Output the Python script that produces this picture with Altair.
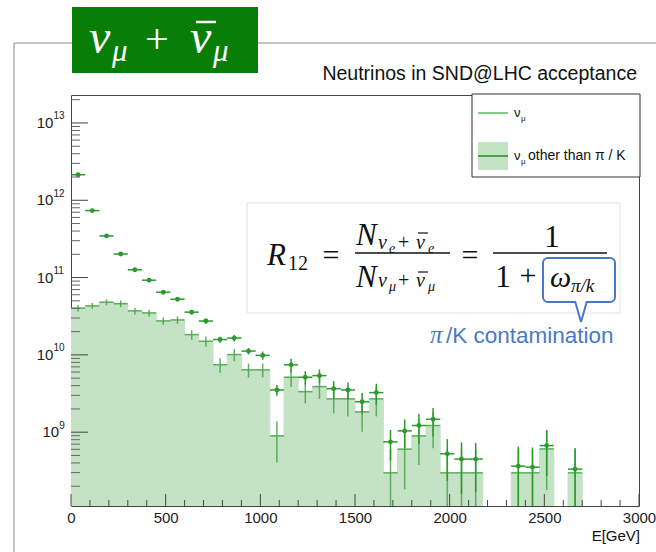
import altair as alt
import pandas as pd
import numpy as np

# ---------------- data ----------------
BIN_WIDTH = 75
BIN_LO = list(range(0, 3000, BIN_WIDTH))
NU_MU = [2.14e12, 7.35e11, 3.46e11, 2.02e11, 1.26e11, 9.25e10, 6.47e10, 5.25e10, 3.57e10, 2.74e10,
         1.58e10, 1.65e10, 1.12e10, 9.85e9, 3.52e9, 7.43e9, 5.14e9, 5.39e9, 3.66e9, 3.52e9,
         2.48e9, 3.25e9, 7.5e8, 1.04e9, 1.22e9, 1.47e9, 5.25e8, 4.49e8, 4.49e8, 0,
         0, 3.64e8, 3.53e8, 6.71e8, 0, 3.33e8, 0, 0, 0, 0]
NU_MU_ERR = [4.3e10, 2.2e10, 1.2e10, 8.1e9, 5.7e9, 4.6e9, 3.6e9, 3.2e9, 2.5e9, 2.2e9,
             1.4e9, 1.65e9, 1.1e9, 1.2e9, 5.6e8, 1.5e9, 1.0e9, 1.1e9, 9.2e8, 8.8e8,
             7.4e8, 9.8e8, 3.2e8, 4.2e8, 5.1e8, 5.9e8, 2.9e8, 2.9e8, 2.8e8, 0,
             0, 2.9e8, 2.8e8, 4.0e8, 0, 2.9e8, 0, 0, 0, 0]
OTHER = [4.02e10, 4.30e10, 4.80e10, 4.60e10, 3.71e10, 3.49e10, 2.75e10, 2.83e10, 1.83e10, 1.50e10,
         7.46e9, 1.01e10, 6.40e9, 6.40e9, 8.96e8, 5.14e9, 3.35e9, 3.89e9, 2.70e9, 2.70e9,
         1.83e9, 2.70e9, 2.98e8, 6.03e8, 8.96e8, 1.22e9, 2.98e8, 2.98e8, 2.98e8, 0,
         0, 2.98e8, 2.98e8, 6.08e8, 0, 2.98e8, 0, 0, 0, 0]
OTHER_ERR = [4.0e9, 3.9e9, 4.3e9, 4.6e9, 3.7e9, 3.5e9, 3.0e9, 3.1e9, 2.6e9, 2.3e9,
             1.6e9, 1.8e9, 1.3e9, 1.3e9, 4.9e8, 1.3e9, 1.0e9, 1.2e9, 9.5e8, 1.1e9,
             8.2e8, 1.1e9, 2.98e8, 4.2e8, 5.2e8, 6.0e8, 2.98e8, 2.98e8, 2.98e8, 0,
             0, 2.98e8, 2.98e8, 4.3e8, 0, 2.98e8, 0, 0, 0, 0]

X_MAJOR = [0, 500, 1000, 1500, 2000, 2500, 3000]
X_MINOR = [v for v in range(100, 3000, 100) if v % 500 != 0]
Y_MAJOR = [1e9, 1e10, 1e11, 1e12, 1e13]
Y_EXP = ["9", "10", "11", "12", "13"]
YMIN, YMAX = 1.11e8, 2.30e13
Y_MINOR = [m * 10.0 ** e for e in range(8, 14) for m in range(2, 10) if YMIN < m * 10.0 ** e < YMAX]

# ---------------- layout ----------------
L, T, W, H = 71, 95, 568, 411
FILL = "#c4e3c4"
PT = "#2d9a2d"
CROSS = "#49a349"
BLUE = "#4a78c8"

df = pd.DataFrame({"lo": BIN_LO, "tot": NU_MU, "tot_err": NU_MU_ERR,
                   "oth": OTHER, "oth_err": OTHER_ERR})
df["hi"] = df["lo"] + BIN_WIDTH
df["mid"] = df["lo"] + BIN_WIDTH / 2
df["tot_lo"] = np.maximum(df["tot"] - df["tot_err"], YMIN)
df["tot_hi"] = df["tot"] + df["tot_err"]
df["oth_lo"] = np.maximum(df["oth"] - df["oth_err"], YMIN)
df["oth_hi"] = df["oth"] + df["oth_err"]
d_tot = df[df["tot"] > 0]
d_oth = df[df["oth"] > 0]

xs = alt.Scale(domain=[0, 3000], nice=False, zero=False)
ys = alt.Scale(type="log", domain=[YMIN, YMAX], nice=False)

xax = alt.Axis(values=X_MAJOR, format="d", labelFont="Liberation Sans", labelFontSize=15,
               labelColor="#222", ticks=False, tickSize=0, domain=False, grid=False,
               labelPadding=4, labelFlush=False, title="")
yax = alt.Axis(values=Y_MAJOR, labels=False, ticks=False, tickSize=0, domain=False,
               grid=False, title="")


def X(field):
    return alt.X(field, type="quantitative", scale=xs, axis=xax)


def Y(field):
    return alt.Y(field, type="quantitative", scale=ys, axis=yax)


fill = alt.Chart(d_oth).mark_rect(color=FILL, stroke=FILL, strokeWidth=1, clip=True).encode(
    x=X("lo"), x2="hi", y=Y("oth"), y2=alt.datum(YMIN))
fill_h = alt.Chart(d_oth).mark_rule(color=CROSS, strokeWidth=1.5, opacity=0.85, clip=True).encode(
    x=X("lo"), x2="hi", y=Y("oth"))
fill_v = alt.Chart(d_oth).mark_rule(color=CROSS, strokeWidth=1.5, opacity=0.85, clip=True).encode(
    x=X("mid"), y=Y("oth_lo"), y2="oth_hi")
pt_h = alt.Chart(d_tot).mark_rule(color=PT, strokeWidth=1.5, clip=True).encode(
    x=X("lo"), x2="hi", y=Y("tot"))
pt_v = alt.Chart(d_tot).mark_rule(color=PT, strokeWidth=1.5, clip=True).encode(
    x=X("mid"), y=Y("tot_lo"), y2="tot_hi")
pts = alt.Chart(d_tot).mark_circle(color=PT, size=24, opacity=1).encode(
    x=X("mid"), y=Y("tot"))

# axis ticks drawn inward (ROOT style)
tk_xmaj = alt.Chart(pd.DataFrame({"v": X_MAJOR})).mark_rule(color="#444", strokeWidth=1).encode(
    x=X("v"), y=alt.value(H), y2=alt.value(H - 12))
tk_xmin = alt.Chart(pd.DataFrame({"v": X_MINOR})).mark_rule(color="#444", strokeWidth=1).encode(
    x=X("v"), y=alt.value(H), y2=alt.value(H - 6))
tk_ymaj = alt.Chart(pd.DataFrame({"v": Y_MAJOR})).mark_rule(color="#444", strokeWidth=1).encode(
    y=Y("v"), x=alt.value(0), x2=alt.value(17))
tk_ymin = alt.Chart(pd.DataFrame({"v": Y_MINOR})).mark_rule(color="#666", strokeWidth=1).encode(
    y=Y("v"), x=alt.value(0), x2=alt.value(9))

# y tick labels 10^n : base and superscript exponent
ylab = pd.DataFrame({"v": Y_MAJOR, "e": Y_EXP})
ylab["n"] = ylab["e"].str.len()
ylayers = []
for n, g in ylab.groupby("n"):
    off = -6 - 5.8 * n
    ylayers.append(alt.Chart(g).mark_text(text="10", font="Liberation Sans", fontSize=15,
                                          color="#222", align="right", baseline="middle").encode(
        y=Y("v"), x=alt.value(off)))
    ylayers.append(alt.Chart(g).mark_text(font="Liberation Sans", fontSize=10, color="#222",
                                          align="left", baseline="middle", dy=-6.5).encode(
        y=Y("v"), x=alt.value(off), text="e:N"))

ONE = pd.DataFrame({"k": [0]})


def txt(s, x, y, size, color="#111", font="Liberation Sans", style="normal", align="left",
        baseline="alphabetic", weight="normal"):
    return alt.Chart(ONE).mark_text(text=s, font=font, fontSize=size, fontStyle=style,
                                    fontWeight=weight, color=color, align=align,
                                    baseline=baseline).encode(
        x=alt.value(x - L), y=alt.value(y - T))


def seg(x1, y1, x2, y2, color, width=1.0):
    return alt.Chart(ONE).mark_rule(color=color, strokeWidth=width).encode(
        x=alt.value(x1 - L), y=alt.value(y1 - T), x2=alt.value(x2 - L), y2=alt.value(y2 - T))


def box(x1, y1, x2, y2, fill, stroke=None, sw=1.0, r=0):
    kw = dict(fill=fill, cornerRadius=r)
    if stroke:
        kw.update(stroke=stroke, strokeWidth=sw)
    return alt.Chart(ONE).mark_rect(**kw).encode(
        x=alt.value(x1 - L), y=alt.value(y1 - T), x2=alt.value(x2 - L), y2=alt.value(y2 - T))


SERIF = "Liberation Serif"
deco = [
    # canvas border
    seg(14, 43, 656, 43, "#b0b0b0", 1.5),
    seg(14, 43, 14, 552, "#b0b0b0", 1.5),
    # green title box
    box(72, 7, 258, 73, "#087d08"),
    txt("\u03bd", 89, 53, 48, "white", SERIF, "italic"),
    txt("\u03bc", 112, 61, 31, "white", SERIF, "italic"),
    txt("+", 145, 53, 42, "white", SERIF),
    txt("\u03bd", 190, 53, 48, "white", SERIF, "italic"),
    seg(196, 22, 216, 22, "white", 2.5),
    txt("\u03bc", 213, 61, 31, "white", SERIF, "italic"),
    # plot title
    txt("Neutrinos in SND@LHC acceptance", 637, 80, 19.5, "#111", align="right"),
    # x title
    txt("E[GeV]", 640, 541, 15, "#111", align="right"),
    # legend
    box(472, 94, 640, 177, "white", "#333", 1),
    seg(478, 113, 508, 113, "#5cb85c", 1.5),
    txt("\u03bd", 514, 117, 13, "#111"),
    txt("\u03bc", 521, 121, 8, "#111"),
    box(478, 142, 508, 170, FILL),
    seg(478, 156, 508, 156, CROSS, 2),
    txt("\u03bd", 514, 160, 13, "#111"),
    txt("\u03bc", 521, 164, 8, "#111"),
    txt("other than \u03c0 / K", 528, 160, 14, "#111"),
    # formula box
    box(247, 203, 620, 313, "white", "#e2e2e2", 1),
    txt("R", 267, 265, 31, "#111", SERIF, "italic"),
    txt("12", 288, 270, 20, "#111", SERIF),
    txt("=", 331, 265, 30, "#111", SERIF, align="center"),
    # numerator N_{nu_e + nubar_e}
    txt("N", 356, 245, 31, "#111", SERIF, "italic"),
    txt("\u03bd", 378, 249, 20, "#111", SERIF, "italic"),
    txt("e", 389, 253, 14, "#111", SERIF, "italic"),
    txt("+", 398, 249, 20, "#111", SERIF),
    txt("\u03bd", 416, 249, 20, "#111", SERIF, "italic"),
    seg(418, 233, 428, 233, "#111", 1.2),
    txt("e", 428, 253, 14, "#111", SERIF, "italic"),
    seg(355, 253, 450, 253, "#111", 1.3),
    # denominator N_{nu_mu + nubar_mu}
    txt("N", 356, 287, 31, "#111", SERIF, "italic"),
    txt("\u03bd", 378, 287, 20, "#111", SERIF, "italic"),
    txt("\u03bc", 389, 291, 14, "#111", SERIF, "italic"),
    txt("+", 398, 287, 20, "#111", SERIF),
    txt("\u03bd", 416, 287, 20, "#111", SERIF, "italic"),
    seg(418, 272, 428, 272, "#111", 1.2),
    txt("\u03bc", 428, 291, 14, "#111", SERIF, "italic"),
    txt("=", 470, 265, 30, "#111", SERIF, align="center"),
    # 1 / (1 + omega)
    txt("1", 552, 247, 31, "#111", SERIF, align="center"),
    seg(493, 253, 607, 253, "#111", 1.3),
    txt("1", 503, 287, 31, "#111", SERIF, align="center"),
    txt("+", 528, 285, 30, "#111", SERIF, align="center"),
    box(543, 258, 615, 302, "white", BLUE, 2, 5),
    txt("\u03c9", 550, 287, 30, "#111", SERIF, "italic"),
    txt("\u03c0/k", 571, 292, 19, "#111", SERIF, "italic"),
    seg(576, 302, 586, 302, "white", 3),
    seg(575, 301, 581, 322, BLUE, 2),
    seg(587, 301, 581, 322, BLUE, 2),
    txt("\u03c0", 430, 343, 25, BLUE, SERIF, "italic"),
    txt("/K contamination", 446, 343, 22.5, BLUE),
]

chart = alt.layer(fill, fill_h, fill_v, pt_h, pt_v, pts,
                  tk_xmaj, tk_xmin, tk_ymaj, tk_ymin, *ylayers, *deco).properties(
    width=W, height=H,
    autosize=alt.AutoSizeParams(type="none"),
    padding={"left": L, "top": T, "right": 656 - L - W, "bottom": 552 - T - H},
    background="white",
).configure_view(stroke="#444", strokeWidth=1)

chart.save("out.html", embed_options={"renderer": "svg", "actions": False})
